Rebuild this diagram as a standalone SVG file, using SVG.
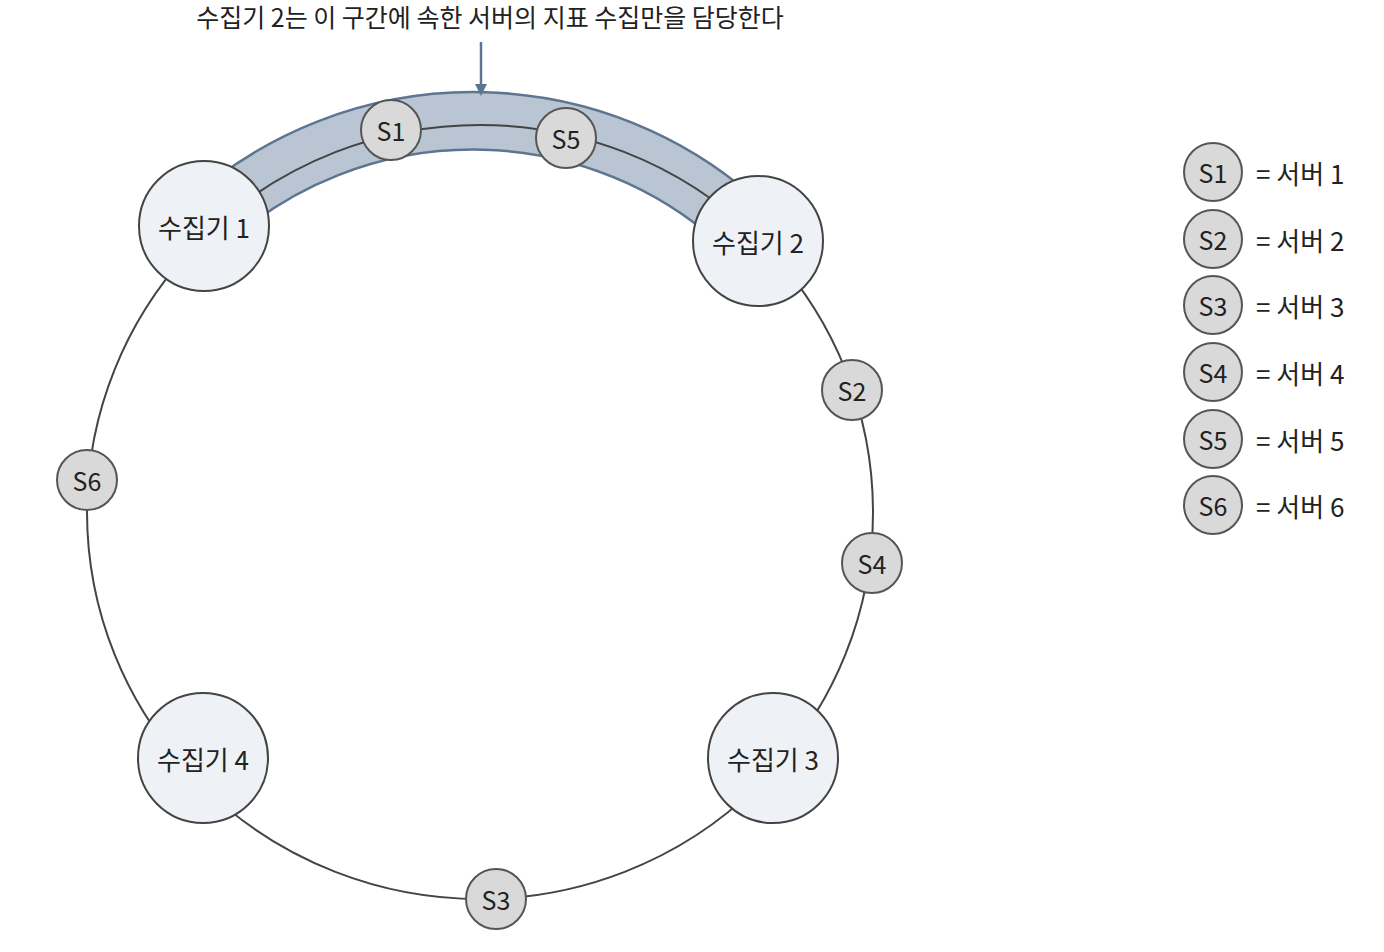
<svg xmlns="http://www.w3.org/2000/svg" width="1384" height="952" viewBox="0 0 1384 952">
<style>
text{font-family:"Noto Sans CJK KR","Noto Sans",sans-serif;fill:#222;dominant-baseline:central}
.c{fill:#eef1f6;stroke:#444;stroke-width:2}
.s{fill:#d9d9d9;stroke:#555;stroke-width:2}
.big{font-size:26px;text-anchor:middle}
.sm{font-size:25px;text-anchor:middle}
.lg{font-size:26px}
</style>
<defs><marker id="ah" markerWidth="12" markerHeight="12" refX="10" refY="6" orient="auto" markerUnits="userSpaceOnUse"><path d="M0,0 L12,6 L0,12 Z" fill="#5e7590"/></marker></defs>
<rect width="1384" height="952" fill="#fff"/>
<text x="490" y="16" style="font-size:25px;text-anchor:middle">수집기 2는 이 구간에 속한 서버의 지표 수집만을 담당한다</text>
<g id="band">
<path d="M 204 226 A 393 387 0 0 1 758 241" fill="none" stroke="#5e7590" stroke-width="60"/>
<path d="M 204 226 A 393 387 0 0 1 758 241" fill="none" stroke="#b9c5d3" stroke-width="55"/>
</g>
<g id="connectors">
<ellipse cx="480" cy="512" rx="393" ry="387" fill="none" stroke="#444" stroke-width="2"/>
<line x1="481" y1="42" x2="481" y2="94" stroke="#5e7590" stroke-width="2.5" marker-end="url(#ah)"/>
</g>
<g id="c1"><circle class="c" cx="204" cy="226" r="65"/><text class="big" x="204" y="226">수집기 1</text></g>
<g id="c2"><circle class="c" cx="758" cy="241" r="65"/><text class="big" x="758" y="241">수집기 2</text></g>
<g id="c3"><circle class="c" cx="773" cy="758" r="65"/><text class="big" x="773" y="758">수집기 3</text></g>
<g id="c4"><circle class="c" cx="203" cy="758" r="65"/><text class="big" x="203" y="758">수집기 4</text></g>
<g id="s1"><circle class="s" cx="391" cy="130" r="30"/><text class="sm" x="391" y="130">S1</text></g>
<g id="s5"><circle class="s" cx="566" cy="138" r="30"/><text class="sm" x="566" y="138">S5</text></g>
<g id="s2"><circle class="s" cx="852" cy="390" r="30"/><text class="sm" x="852" y="390">S2</text></g>
<g id="s4"><circle class="s" cx="872" cy="563" r="30"/><text class="sm" x="872" y="563">S4</text></g>
<g id="s3"><circle class="s" cx="496" cy="899" r="30"/><text class="sm" x="496" y="899">S3</text></g>
<g id="s6"><circle class="s" cx="87" cy="480" r="30"/><text class="sm" x="87" y="480">S6</text></g>
<g id="legend">
<circle class="s" cx="1213" cy="172" r="29"/><text class="sm" x="1213" y="172">S1</text><text class="lg" x="1256" y="172">= 서버 1</text>
<circle class="s" cx="1213" cy="239" r="29"/><text class="sm" x="1213" y="239">S2</text><text class="lg" x="1256" y="239">= 서버 2</text>
<circle class="s" cx="1213" cy="305" r="29"/><text class="sm" x="1213" y="305">S3</text><text class="lg" x="1256" y="305">= 서버 3</text>
<circle class="s" cx="1213" cy="372" r="29"/><text class="sm" x="1213" y="372">S4</text><text class="lg" x="1256" y="372">= 서버 4</text>
<circle class="s" cx="1213" cy="439" r="29"/><text class="sm" x="1213" y="439">S5</text><text class="lg" x="1256" y="439">= 서버 5</text>
<circle class="s" cx="1213" cy="505" r="29"/><text class="sm" x="1213" y="505">S6</text><text class="lg" x="1256" y="505">= 서버 6</text>
</g>
</svg>
